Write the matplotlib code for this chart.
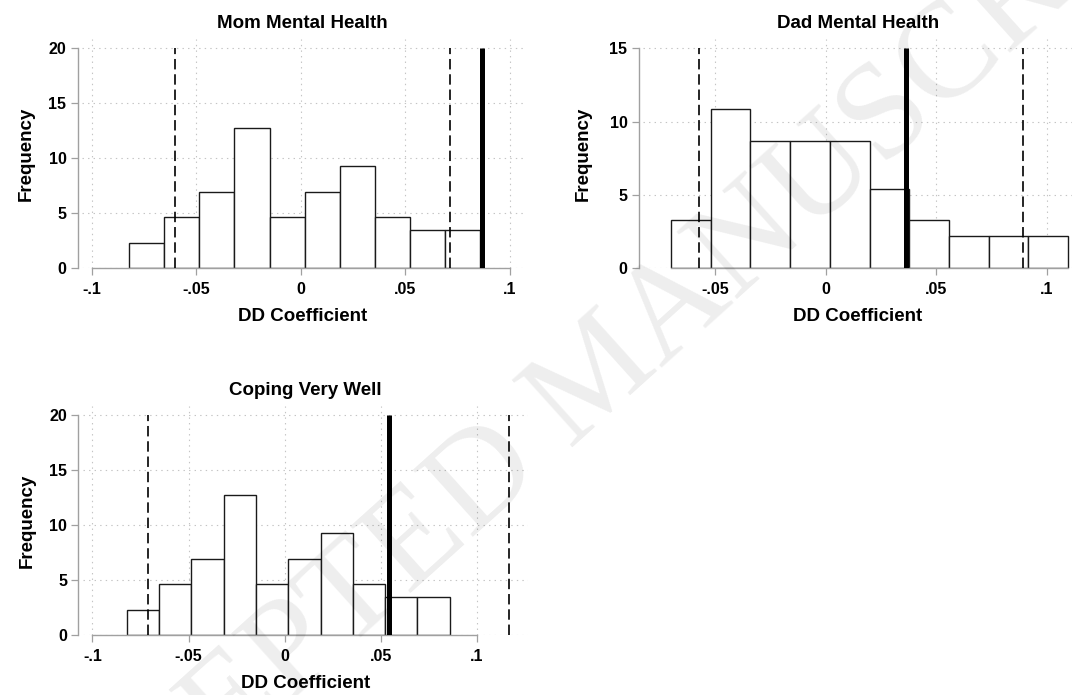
import numpy as np
import matplotlib.pyplot as plt

plt.rcParams['font.family'] = ['Liberation Sans', 'DejaVu Sans']
plt.rcParams['lines.scale_dashes'] = False

W, H = 1072, 695

# frequency per bin, bin range, placebo bounds (dashed) and actual estimate (solid)
mom_freq = [2.33, 4.65, 6.98, 12.79, 4.65, 6.98, 9.30, 4.65, 3.49, 3.49]
mom_range = (-0.0820, 0.0857)
mom_ci = [-0.0601, 0.0714]
mom_est = 0.0866

dad_freq = [3.26, 10.87, 8.70, 8.70, 8.70, 5.43, 3.26, 2.17, 2.17, 2.17]
dad_range = (-0.0700, 0.1097)
dad_ci = [-0.0573, 0.0891]
dad_est = 0.0363

cope_freq = [2.33, 4.65, 6.98, 12.79, 4.65, 6.98, 9.30, 4.65, 3.49, 3.49]
cope_range = (-0.0821, 0.0859)
cope_ci = [-0.0712, 0.1169]
cope_est = 0.0543

xt_full = [-0.1, -0.05, 0, 0.05, 0.1]
xl_full = ["-.1", "-.05", "0", ".05", ".1"]
xt_dad = [-0.05, 0, 0.05, 0.1]
xl_dad = ["-.05", "0", ".05", ".1"]
yt_20 = [0, 5, 10, 15, 20]
yt_15 = [0, 5, 10, 15]

fig = plt.figure(figsize=(W / 100, H / 100), dpi=100)


def add_ax(left, top, right, bottom):
    # pixel box -> figure fraction
    return fig.add_axes([left / W, 1 - bottom / H, (right - left) / W, (bottom - top) / H])


def panel(ax, freq, rng, ci, est, xt, xl, yt, xlim, ytop, title, ylpad=10):
    edges = np.linspace(rng[0], rng[1], len(freq) + 1)
    ax.bar(edges[:-1], freq, width=np.diff(edges), align='edge',
           facecolor='white', edgecolor='#1a1a1a', linewidth=1.0, zorder=2)
    ymax = yt[-1]
    ax.vlines(ci, 0, ymax, colors='black', linewidth=1.2,
              linestyles=[(0, (7.5, 3.5))], zorder=3)
    ax.vlines(est, -0.15, ymax, colors='black', linewidth=3.6, zorder=4)

    ax.set_xlim(*xlim)
    ax.set_ylim(0, ytop)
    ax.set_xticks(xt)
    ax.set_xticklabels(xl)
    ax.set_yticks(yt)
    ax.set_yticklabels([str(v) for v in yt])
    ax.grid(True, linestyle=(0, (1, 3)), color='#c4c4c4', linewidth=0.8, zorder=0)
    ax.set_axisbelow(True)

    for s in ['top', 'right']:
        ax.spines[s].set_visible(False)
    ax.spines['left'].set_position(('outward', 3.2))
    ax.spines['left'].set_bounds(0, ymax)
    ax.spines['bottom'].set_bounds(min(xt[0], rng[0]), max(xt[-1], rng[1]))
    for s in ['left', 'bottom']:
        ax.spines[s].set_color('#a0a0a0')
        ax.spines[s].set_linewidth(1.0)
    ax.tick_params(direction='out', length=5, width=0.9, color='#a0a0a0',
                   labelsize=11.5, pad=3)
    ax.tick_params(axis='x', pad=5)
    for lab in ax.get_xticklabels() + ax.get_yticklabels():
        lab.set_fontweight('bold')

    ax.set_title(title, fontsize=13.5, fontweight='bold', pad=8)
    ax.set_xlabel("DD Coefficient", fontsize=13.5, fontweight='bold', labelpad=8)
    ax.set_ylabel("Frequency", fontsize=13.5, fontweight='bold', labelpad=ylpad)


ax1 = add_ax(82, 39.3, 523.4, 268.3)
panel(ax1, mom_freq, mom_range, mom_ci, mom_est, xt_full, xl_full, yt_20,
      (-0.1046, 0.1065), 20.82, "Mom Mental Health")

ax2 = add_ax(643, 39.3, 1072.2, 268.3)
panel(ax2, dad_freq, dad_range, dad_ci, dad_est, xt_dad, xl_dad, yt_15,
      (-0.0826, 0.1115), 15.61, "Dad Mental Health", ylpad=13)

ax3 = add_ax(82.8, 406.3, 528, 635.3)
panel(ax3, cope_freq, cope_range, cope_ci, cope_est, xt_full, xl_full, yt_20,
      (-0.105, 0.1266), 20.82, "Coping Very Well")

# journal watermark
fig.text(600 / W, 1 - 378 / H, "ACCEPTED MANUSCRIPT", rotation=42,
         fontsize=99, family='Liberation Serif', color='black', alpha=0.07,
         ha='center', va='center', zorder=10)

fig.savefig("out.png", dpi=100)
